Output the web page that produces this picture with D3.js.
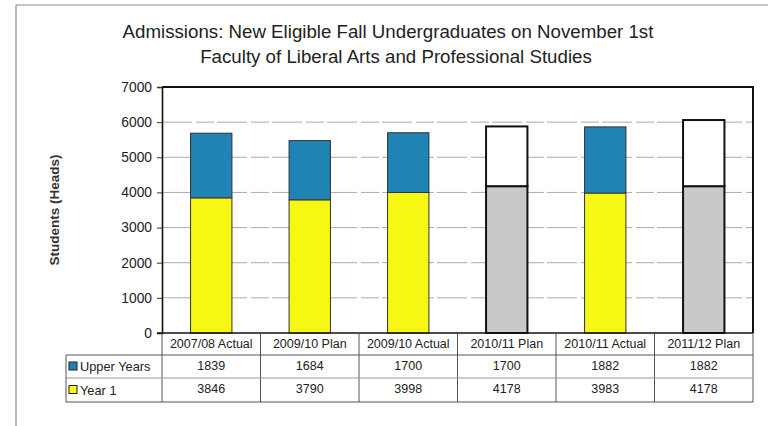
<!DOCTYPE html>
<html>
<head>
<meta charset="utf-8">
<script src="https://cdn.jsdelivr.net/npm/d3@7"></script>
<style>
  body { margin: 0; background: #fff; }
  svg { font-family: "Liberation Sans", Arial, sans-serif; }
</style>
</head>
<body>
<div id="chart"></div>
<script>
// chart values
const categories = ["2007/08 Actual", "2009/10 Plan", "2009/10 Actual", "2010/11 Plan", "2010/11 Actual", "2011/12 Plan"];
const upperYears = [1839, 1684, 1700, 1700, 1882, 1882];
const year1 = [3846, 3790, 3998, 4178, 3983, 4178];
const barKind = ["actual", "actual", "actual", "plan", "actual", "plan"];
const yTicks = [0, 1000, 2000, 3000, 4000, 5000, 6000, 7000];
const seriesNames = ["Upper Years", "Year 1"];

const width = 772, height = 426;
const plot = { left: 162, right: 753, top: 87, bottom: 333 };

const svg = d3.select("#chart").append("svg")
    .attr("width", width)
    .attr("height", height);

// outer frame (scan edges)
svg.append("line").attr("x1", 16).attr("x2", 16).attr("y1", 5).attr("y2", height)
    .attr("stroke", "#8a8a8a").attr("stroke-width", 1.2);
svg.append("line").attr("x1", 16).attr("x2", 768).attr("y1", 5).attr("y2", 5)
    .attr("stroke", "#8a8a8a").attr("stroke-width", 1.2);

// title
svg.append("text").attr("x", 388).attr("y", 38).attr("text-anchor", "middle")
    .attr("font-size", 18.7).attr("fill", "#222")
    .text("Admissions: New Eligible Fall Undergraduates on November 1st");
svg.append("text").attr("x", 396).attr("y", 63).attr("text-anchor", "middle")
    .attr("font-size", 18.7).attr("fill", "#222")
    .text("Faculty of Liberal Arts and Professional Studies");

let x = d3.scaleBand()
    .domain(categories)
    .range([plot.left, plot.right])
    .paddingInner(0.58)
    .paddingOuter(0.29);

let y = d3.scaleLinear()
    .domain([0, 7000])
    .range([plot.bottom, plot.top]);

// gridlines
svg.append("g")
    .selectAll("line")
    .data(yTicks.slice(1))
    .enter()
    .append("line")
    .attr("x1", plot.left).attr("x2", plot.right)
    .attr("y1", d => y(d)).attr("y2", d => y(d))
    .attr("stroke", "#a0a0a0")
    .attr("stroke-width", 0.9)
    .attr("stroke-dasharray", "30,4,18,3");

// y axis
let yAxis = svg.append("g")
    .attr("transform", `translate(${plot.left},0)`)
    .call(d3.axisLeft(y).tickValues(yTicks).tickSize(5).tickPadding(5).tickFormat(d3.format("d")));
yAxis.select(".domain").attr("stroke", "#111").attr("stroke-width", 1.6);
yAxis.selectAll(".tick line").attr("stroke", "#333");
yAxis.selectAll(".tick text").attr("font-size", 13.8).attr("fill", "#222")
    .attr("font-family", "Liberation Sans, Arial, sans-serif");

svg.append("text")
    .attr("transform", `translate(59,${(plot.top + plot.bottom) / 2}) rotate(-90)`)
    .attr("text-anchor", "middle")
    .attr("font-size", 13.5)
    .attr("font-weight", "bold")
    .attr("fill", "#333")
    .text("Students (Heads)");

// plot border top & right
svg.append("path")
    .attr("d", `M${plot.left},${plot.top}H${plot.right}V${plot.bottom}`)
    .attr("fill", "none").attr("stroke", "#111").attr("stroke-width", 2);

// bars
const colors = {
    actual: { upper: "#1f83b4", year1: "#f7f714", stroke: "#333", sw: 1 },
    plan: { upper: "#ffffff", year1: "#c9c9c9", stroke: "#111", sw: 2 }
};

let bars = svg.append("g");
categories.forEach(function (c, i) {
    let k = colors[barKind[i]];
    bars.append("rect")
        .attr("x", x(c)).attr("width", x.bandwidth())
        .attr("y", y(year1[i])).attr("height", y(0) - y(year1[i]))
        .attr("fill", k.year1).attr("stroke", k.stroke).attr("stroke-width", k.sw);
    bars.append("rect")
        .attr("x", x(c)).attr("width", x.bandwidth())
        .attr("y", y(year1[i] + upperYears[i])).attr("height", y(year1[i]) - y(year1[i] + upperYears[i]))
        .attr("fill", k.upper).attr("stroke", k.stroke).attr("stroke-width", k.sw);
});

// x axis line
svg.append("line").attr("x1", plot.left - 5).attr("x2", plot.right)
    .attr("y1", plot.bottom).attr("y2", plot.bottom)
    .attr("stroke", "#111").attr("stroke-width", 1.6);

// data table
const rowH = [plot.bottom, 355, 378, 402];
const legendLeft = 66;
const step = x.step();
let table = svg.append("g").attr("stroke", "#555").attr("stroke-width", 1);

// column separators
d3.range(categories.length + 1).forEach(function (j) {
    let xx = plot.left + j * step;
    table.append("line").attr("x1", xx).attr("x2", xx).attr("y1", plot.bottom).attr("y2", rowH[3]);
});
// row lines
table.append("line").attr("x1", legendLeft).attr("x2", plot.right).attr("y1", rowH[1]).attr("y2", rowH[1]);
table.append("line").attr("x1", legendLeft).attr("x2", plot.right).attr("y1", rowH[2]).attr("y2", rowH[2]).attr("stroke", "#999");
table.append("line").attr("x1", legendLeft).attr("x2", plot.right).attr("y1", rowH[3]).attr("y2", rowH[3]);
table.append("line").attr("x1", legendLeft).attr("x2", legendLeft).attr("y1", rowH[1]).attr("y2", rowH[3]);

let tableText = svg.append("g").attr("font-size", 12.5).attr("fill", "#222").attr("text-anchor", "middle");
categories.forEach(function (c, j) {
    let cx = plot.left + (j + 0.5) * step;
    tableText.append("text").attr("x", cx).attr("y", rowH[0] + 15).text(c);
    tableText.append("text").attr("x", cx).attr("y", rowH[1] + 15).text(upperYears[j]);
    tableText.append("text").attr("x", cx).attr("y", rowH[2] + 15).text(year1[j]);
});

// legend keys in table
const keyColors = [colors.actual.upper, colors.actual.year1];
seriesNames.forEach(function (s, i) {
    let ty = rowH[i + 1] + (rowH[i + 2] - rowH[i + 1]) / 2;
    svg.append("rect").attr("x", legendLeft + 3).attr("y", ty - 4.5).attr("width", 8).attr("height", 8)
        .attr("fill", keyColors[i]).attr("stroke", "#222").attr("stroke-width", 1);
    svg.append("text").attr("x", legendLeft + 14).attr("y", ty + 4.5)
        .attr("font-size", 12.8).attr("fill", "#222").text(s);
});
</script>
</body>
</html>
